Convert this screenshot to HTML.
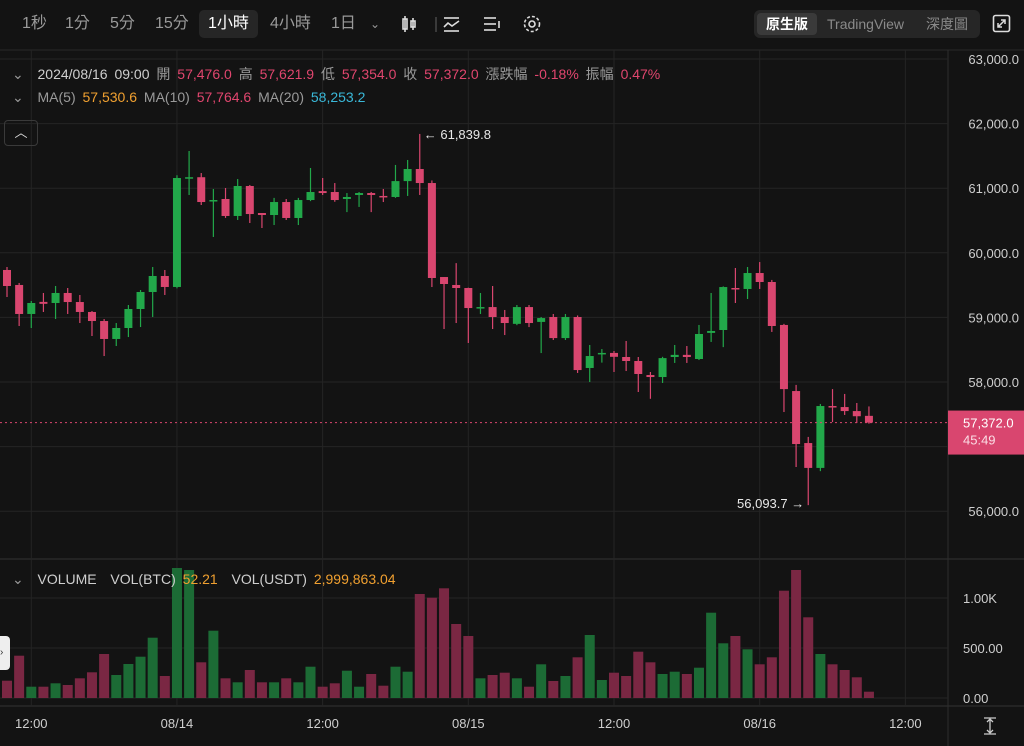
<!DOCTYPE html>
<html><head><meta charset="utf-8">
<style>
html,body{margin:0;padding:0;background:#131313;}
body{width:1024px;height:746px;overflow:hidden;position:relative;font-family:"Liberation Sans","Noto Sans CJK TC",sans-serif;color:#e8e8e8;}
.tb{position:absolute;top:0;left:0;width:1024px;height:48px;}
.tf{position:absolute;top:10px;height:28px;line-height:28px;font-size:16px;color:#9a9a9a;}
.sel{background:#262626;color:#fff;border-radius:5px;padding:0 9px;}
.info{position:absolute;left:12px;font-size:14px;color:#cfcfcf;white-space:nowrap;word-spacing:3px;}
.r{color:#e0466e}.o{color:#f0a030}.c{color:#3ab8d8}.g{color:#9a9a9a}
.seg{position:absolute;left:754px;top:10px;width:226px;height:28px;background:#262626;border-radius:6px;}
.seg span{position:absolute;top:0;line-height:28px;font-size:14px;color:#8a8a8a;}
</style></head><body>
<div class="tb">
 <div class="tf" style="left:22px">1秒</div>
 <div class="tf" style="left:65px">1分</div>
 <div class="tf" style="left:110px">5分</div>
 <div class="tf" style="left:155px">15分</div>
 <div class="tf sel" style="left:199px">1小時</div>
 <div class="tf" style="left:270px">4小時</div>
 <div class="tf" style="left:331px">1日</div>
 <div class="tf" style="left:370px;font-size:12px">⌄</div>
 <svg style="position:absolute;left:395px;top:12px" width="160" height="26">
  <g stroke="#ddd" fill="none" stroke-width="1.6">
   <g><rect x="8" y="7" width="4" height="10"/><line x1="10" y1="4" x2="10" y2="20"/><rect x="16" y="9" width="4" height="6"/><line x1="18" y1="6" x2="18" y2="18"/></g>
   <line x1="41" y1="5" x2="41" y2="20" stroke="#444"/>
   <g><line x1="49" y1="6" x2="64" y2="6"/><polyline points="49,15 53,11 57,14 64,9"/><line x1="49" y1="19" x2="64" y2="19"/></g>
   <g><line x1="89" y1="6" x2="101" y2="6"/><line x1="89" y1="12" x2="101" y2="12"/><line x1="89" y1="18" x2="101" y2="18"/><line x1="104" y1="9" x2="104" y2="16"/></g>
   <g><circle cx="137" cy="12" r="3"/><circle cx="137" cy="12" r="7.5" stroke-dasharray="3 2"/></g>
  </g>
 </svg>
 <div class="seg">
  <div style="position:absolute;left:3px;top:3px;width:60px;height:22px;background:#3a3a3a;border-radius:4px"></div>
  <span style="left:12px;color:#fff;font-weight:bold">原生版</span>
  <span style="left:73px">TradingView</span>
  <span style="left:172px">深度圖</span>
 </div>
 <svg style="position:absolute;left:992px;top:14px" width="20" height="20"><rect x="1.5" y="1.5" width="16" height="16" rx="2" fill="none" stroke="#ddd" stroke-width="1.6"/><path d="M6 13 L13 6 M9 6 H13 V10 M6 9 V13 H10" stroke="#ddd" stroke-width="1.5" fill="none"/></svg>
</div>
<svg id="ch" width="1024" height="746" style="position:absolute;left:0;top:0"></svg>
<div class="info" style="top:64px"><span class="g">⌄</span>&nbsp; 2024/08/16 09:00 <span class="g">開</span> <span class="r">57,476.0</span> <span class="g">高</span> <span class="r">57,621.9</span> <span class="g">低</span> <span class="r">57,354.0</span> <span class="g">收</span> <span class="r">57,372.0</span> <span class="g">漲跌幅</span> <span class="r">-0.18%</span> <span class="g">振幅</span> <span class="r">0.47%</span></div>
<div class="info" style="top:89px"><span class="g">⌄&nbsp; MA(5)</span> <span class="o">57,530.6</span> <span class="g">MA(10)</span> <span class="r">57,764.6</span> <span class="g">MA(20)</span> <span class="c">58,253.2</span></div>
<div class="info" style="top:571px"><span class="g">⌄</span>&nbsp; VOLUME&nbsp; VOL(BTC) <span class="o">52.21</span>&nbsp; VOL(USDT) <span class="o">2,999,863.04</span></div>
<div style="position:absolute;left:4px;top:120px;width:32px;height:24px;border:1px solid #3a3a3a;border-radius:4px;color:#ddd;text-align:center;line-height:24px;font-size:13px">︿</div>
<div style="position:absolute;left:0;top:636px;width:10px;height:34px;background:#eee;border-radius:0 4px 4px 0;color:#333;font-size:10px;line-height:34px">›</div>
<script>
const opens=[59734,59502,59053,59240,59223,59378,59238,59084,58944,58666,58836,59130,59393,59641,59471,61158,61170,60800,60833,60570,61034,60616,60585,60786,60539,60817,60955,60941,60833,60895,60925,60880,60864,61110,61297,61080,59625,59502,59455,59145,59160,59006,58900,59160,58930,59006,58680,59006,58217,58433,58450,58387,58325,58108,58077,58387,58420,58356,58760,58805,59455,59440,59687,59548,58883,57860,57055,56670,57628,57612,57550,57476];
const closes=[59486,59053,59223,59210,59378,59238,59084,58944,58666,58836,59130,59393,59641,59471,61158,61170,60786,60817,60570,61034,60600,60585,60786,60539,60817,60941,60925,60817,60864,60925,60895,60864,61110,61297,61080,59610,59517,59455,59145,59160,59006,58913,59160,58913,58990,58680,59006,58185,58402,58450,58390,58325,58124,58077,58370,58420,58387,58743,58790,59470,59440,59687,59548,58867,57890,57040,56670,57628,57612,57550,57470,57372];
const highs=[59780,59533,59254,59378,59486,59455,59347,59099,58975,58913,59192,59424,59780,59734,61200,61576,61235,60988,61003,61142,61050,60616,60850,60833,60850,61313,61158,61080,60925,60941,60941,60988,61360,61437,61839.8,61120,59625,59840,59460,59378,59486,59115,59192,59192,59006,59053,59053,59030,58573,58510,58480,58635,58387,58155,58390,58573,58557,58883,59378,59480,59765,59780,59857,59580,58900,57955,57150,57660,57890,57815,57675,57621.9];
const lows=[59316,58867,58836,59084,58975,59053,58913,58712,58402,58557,58696,58851,59006,59347,59450,60895,60740,60245,60540,60508,60461,60384,60430,60508,60430,60800,60895,60790,60630,60710,60630,60786,60850,60880,60895,59470,58820,58913,58604,59053,58820,58727,58880,58850,58448,58650,58650,58140,58000,58300,58155,58170,57845,57740,57985,58295,58295,58340,58620,58540,59223,59285,59440,58775,57535,56684,56093.7,56620,57380,57490,57365,57354];
const volumes=[173,423,113,113,147,130,197,257,440,230,340,413,603,220,1300,1280,357,673,197,157,280,157,157,197,157,313,113,147,273,113,240,123,313,263,1040,1003,1097,740,620,197,230,253,197,113,337,170,220,407,630,180,253,220,463,357,240,263,240,303,853,547,620,487,337,407,1073,1280,807,440,337,280,207,63];
const priceTicks=[63000,62000,61000,60000,59000,58000,57000,56000];
const volTicks=[1000,500,0];
const volTickLabels=["1.00K","500.00","0.00"];
const timeLabels=["12:00","08/14","12:00","08/15","12:00","08/16","12:00"];
const lastPrice=57372;

const NS="http://www.w3.org/2000/svg";
const svg=document.getElementById('ch');
function el(t,a,p){const e=document.createElementNS(NS,t);for(const k in a)e.setAttribute(k,a[k]);(p||svg).appendChild(e);return e;}
const fmt=v=>v.toLocaleString('en-US',{minimumFractionDigits:1,maximumFractionDigits:1});
const xOf=i=>7+i*12.14;
const yP=v=>59+(63000-v)*0.0646;
const yV=v=>698-v*0.1;
const AX=948;
const RED="#d9466f",GRN="#22a84a",VRED="#7a2743",VGRN="#1c6b35";
el('line',{x1:0,y1:50,x2:1024,y2:50,stroke:'#2a2a2a'});
el('line',{x1:0,y1:559,x2:1024,y2:559,stroke:'#333'});
el('line',{x1:0,y1:706,x2:1024,y2:706,stroke:'#333'});
el('line',{x1:AX,y1:50,x2:AX,y2:746,stroke:'#2e2e2e'});
priceTicks.forEach(v=>{const y=yP(v);
 const g=el('line',{x1:0,y1:y,x2:AX,y2:y,stroke:'#242424'});
 
 if(v!==57000){const t=el('text',{x:1019,y:y+5,fill:'#cfcfcf','font-size':13,'text-anchor':'end'});t.textContent=fmt(v);
 }
});
volTicks.forEach((v,i)=>{const y=yV(v);
 el('line',{x1:0,y1:y,x2:AX,y2:y,stroke:'#242424'});
 const t=el('text',{x:963,y:y+5,fill:'#cfcfcf','font-size':13});t.textContent=volTickLabels[i];
 
});
timeLabels.forEach((s,i)=>{const x=xOf(2+i*12);
 el('line',{x1:x,y1:50,x2:x,y2:706,stroke:'#242424'});
 const t=el('text',{x:x,y:728,fill:'#cfcfcf','font-size':13,'text-anchor':'middle'});t.textContent=s;
 
});
opens.forEach((o,i)=>{const c=closes[i],up=c>=o,col=up?GRN:RED,x=xOf(i);
 const w=el('line',{x1:x,y1:yP(highs[i]),x2:x,y2:yP(lows[i]),stroke:col,'stroke-width':1.2});
 
 const t=Math.min(yP(o),yP(c)),h=Math.max(1.5,Math.abs(yP(o)-yP(c)));
 const b=el('rect',{x:x-4,y:t,width:8,height:h,fill:col});
 
 const vb=el('rect',{x:x-5,y:yV(volumes[i]),width:10,height:volumes[i]*0.1,fill:up?VGRN:VRED});
 
});
let hi=0,lo=0;highs.forEach((v,i)=>{if(v>highs[hi])hi=i;});lows.forEach((v,i)=>{if(v<lows[lo])lo=i;});
let t=el('text',{x:xOf(hi)+4,y:yP(highs[hi])+5,fill:'#e8e8e8','font-size':13});t.textContent='← '+fmt(highs[hi]);

t=el('text',{x:xOf(lo)-4,y:yP(lows[lo])+3,fill:'#e8e8e8','font-size':13,'text-anchor':'end'});t.textContent=fmt(lows[lo])+' →';

const ly=yP(lastPrice);
const pl=el('line',{x1:0,y1:ly,x2:AX,y2:ly,stroke:RED,'stroke-dasharray':'2 3'});

const tag=el('rect',{x:AX,y:ly-12,width:76,height:44,fill:'#d9466f'});

t=el('text',{x:963,y:ly+5,fill:'#fff','font-size':13});t.textContent=fmt(lastPrice);

t=el('text',{x:963,y:ly+22,fill:'#fbdde5','font-size':13});t.textContent='45:49';

const ic=el('path',{d:'M984 718 H996 M984 734 H996 M990 719 V733 M987 722 L990 719 L993 722 M987 730 L990 733 L993 730',stroke:'#ccc',fill:'none','stroke-width':1.3});

</script>
</body></html>
